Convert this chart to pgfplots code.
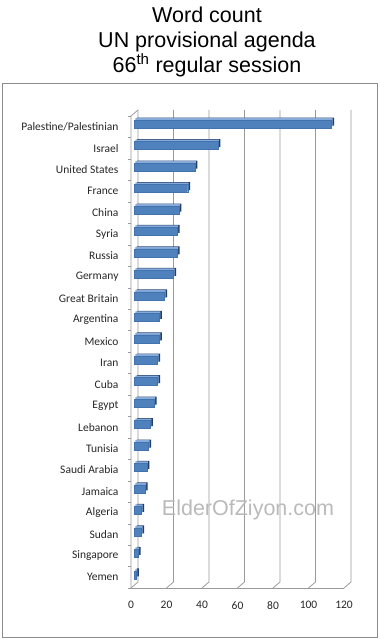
\documentclass[border=0pt]{standalone}
\usepackage{pgfplots}
\pgfplotsset{compat=1.18}
\usepackage{fontspec}
\setmainfont{Carlito}
\newfontfamily\arial{Liberation Sans}
\definecolor{barblue}{HTML}{4F81BD}
\definecolor{bardark}{HTML}{233F66}
\definecolor{barlight}{HTML}{86AADA}
\definecolor{baredge}{HTML}{4373AE}
\definecolor{gridgray}{HTML}{9A9A9A}
\definecolor{framegray}{HTML}{8C8C8C}
\begin{document}
\begin{tikzpicture}[x=1pt,y=1pt]
\path[use as bounding box] (0,0) rectangle (380,640);
\draw[framegray, line width=0.8pt] (2.5,2.5) rectangle (377.5,557);
\node[font=\arial\fontsize{21.5}{24}\selectfont, anchor=base] at (207,617) {Word count};
\node[font=\arial\fontsize{21.5}{24}\selectfont, anchor=base] at (207,592) {UN provisional agenda};
\node[font=\arial\fontsize{21.5}{24}\selectfont, anchor=base] at (207,567.5) {66\textsuperscript{th} regular session};
\begin{axis}[
  at={(131pt,52pt)}, anchor=south west, scale only axis,
  width=213pt, height=472pt,
  xmin=0, xmax=120, ymin=-0.5, ymax=21.5,
  axis line style={draw=none},
  xtick={0,20,...,120},
  xtick style={draw=none},
  ytick={0,...,21},
  yticklabels={Yemen, Singapore, Sudan\hspace{3pt}, Algeria, Jamaica, Saudi Arabia, Tunisia, Lebanon\hspace{3pt}, Egypt, Cuba, Iran, Mexico, Argentina, Great Britain, Germany, Russia, Syria, China, France, United States, Israel, Palestine/Palestinian},
  minor ytick={-0.5,0.5,...,21.5},
  ytick pos=left,
  major tick length=0pt, minor tick length=3pt, tick align=outside,
  ytick style={draw=gridgray},
  /pgf/number format/assume math mode=true,
  yticklabel style={font=\fontsize{11.5}{13}\selectfont, text=black!85, xshift=-9pt},
  xticklabel style={font=\fontsize{11.5}{13}\selectfont, text=black!85, yshift=-10pt},
  clip=false,
]
\pgfplotsinvokeforeach{0,20,40,60,80,100,120}{
  \draw[gridgray, line width=0.8pt] (axis cs:#1,-0.5) -- ++(7pt,6pt) -- ([xshift=7pt,yshift=6pt]axis cs:#1,21.5);
}
\draw[gridgray, line width=0.8pt] (axis cs:0,-0.5) -- (axis cs:0,21.5) -- ++(7pt,6pt);
\draw[gridgray, line width=0.8pt] (axis cs:0,-0.5) -- (axis cs:120,-0.5);
% back face (right side shows dark)
\addplot[xbar, bar width=8pt, bar shift=0pt, fill=bardark, draw=none,
  transform canvas={xshift=6pt,yshift=5pt}] coordinates {
(1,0) (2,1) (4,2) (4,3) (6,4) (7,5) (8,6) (9,7) (11,8) (13,9) (13,10)
(14,11) (14,12) (17,13) (22,14) (24,15) (24,16) (25,17) (30,18) (34,19) (47,20) (111,21)
};
% top face (light)
\addplot[xbar, bar width=8pt, bar shift=0pt, fill=barlight, draw=none,
  transform canvas={xshift=4.5pt,yshift=4.5pt}] coordinates {
(1,0) (2,1) (4,2) (4,3) (6,4) (7,5) (8,6) (9,7) (11,8) (13,9) (13,10)
(14,11) (14,12) (17,13) (22,14) (24,15) (24,16) (25,17) (30,18) (34,19) (47,20) (111,21)
};
% front face
\addplot[xbar, bar width=8pt, bar shift=0pt, fill=barblue, draw=baredge, line width=0.4pt,
  transform canvas={xshift=3.5pt,yshift=2.5pt}] coordinates {
(1,0) (2,1) (4,2) (4,3) (6,4) (7,5) (8,6) (9,7) (11,8) (13,9) (13,10)
(14,11) (14,12) (17,13) (22,14) (24,15) (24,16) (25,17) (30,18) (34,19) (47,20) (111,21)
};
\end{axis}
\node[font=\arial\fontsize{21.5}{24}\selectfont, text=black!27, anchor=base] at (248,124.5) {ElderOfZiyon.com};
\end{tikzpicture}
\end{document}
